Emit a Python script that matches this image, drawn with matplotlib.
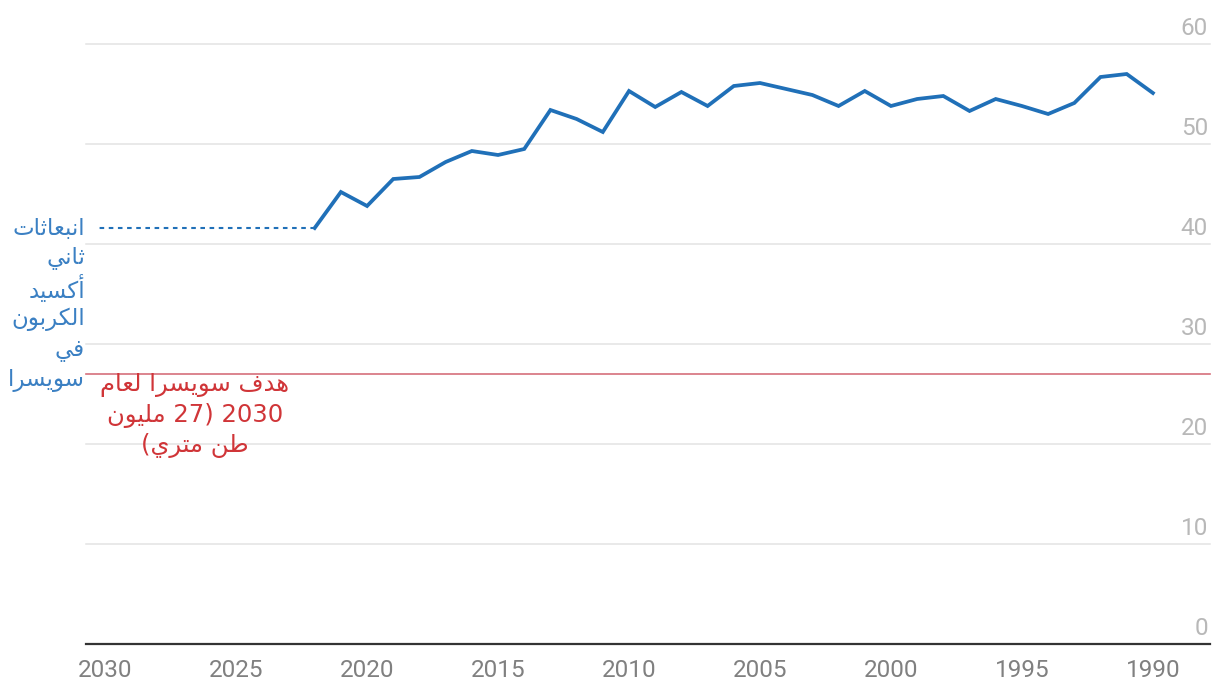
import re
import matplotlib
matplotlib.use("Agg")
import matplotlib.pyplot as plt
import matplotlib.transforms as mtransforms

# ---------------- data ----------------
years = [1990, 1991, 1992, 1993, 1994, 1995, 1996, 1997, 1998, 1999,
         2000, 2001, 2002, 2003, 2004, 2005, 2006, 2007, 2008, 2009,
         2010, 2011, 2012, 2013, 2014, 2015, 2016, 2017, 2018, 2019,
         2020, 2021, 2022]
emissions = [55.1, 57.0, 56.7, 54.1, 53.0, 53.8, 54.5, 53.3, 54.8, 54.5,
             53.8, 55.3, 53.8, 54.9, 55.5, 56.1, 55.8, 53.8, 55.2, 53.7,
             55.3, 51.2, 52.5, 53.4, 49.5, 48.9, 49.3, 48.2, 46.7, 46.5,
             43.8, 45.2, 41.6]
projection_years = [2022, 2030.4]
target_value = 27
y_ticks = [0, 10, 20, 30, 40, 50, 60]
x_ticks = [2030, 2025, 2020, 2015, 2010, 2005, 2000, 1995, 1990]

label_lines = ["انبعاثات", "ثاني", "أكسيد", "الكربون", "في", "سويسرا"]
target_lines = ["هدف سويسرا لعام", "2030 (27 مليون", "طن متري)"]

# ---------------- simple Arabic shaping (presentation forms) ----------------
FORMS = {
    'ا': ('\uFE8D', '\uFE8E', None, None),
    'أ': ('\uFE83', '\uFE84', None, None),
    'ب': ('\uFE8F', '\uFE90', '\uFE91', '\uFE92'),
    'ت': ('\uFE95', '\uFE96', '\uFE97', '\uFE98'),
    'ث': ('\uFE99', '\uFE9A', '\uFE9B', '\uFE9C'),
    'د': ('\uFEA9', '\uFEAA', None, None),
    'ر': ('\uFEAD', '\uFEAE', None, None),
    'س': ('\uFEB1', '\uFEB2', '\uFEB3', '\uFEB4'),
    'ط': ('\uFEC1', '\uFEC2', '\uFEC3', '\uFEC4'),
    'ع': ('\uFEC9', '\uFECA', '\uFECB', '\uFECC'),
    'ف': ('\uFED1', '\uFED2', '\uFED3', '\uFED4'),
    'ك': ('\uFED9', '\uFEDA', '\uFEDB', '\uFEDC'),
    'ل': ('\uFEDD', '\uFEDE', '\uFEDF', '\uFEE0'),
    'م': ('\uFEE1', '\uFEE2', '\uFEE3', '\uFEE4'),
    'ن': ('\uFEE5', '\uFEE6', '\uFEE7', '\uFEE8'),
    'ه': ('\uFEE9', '\uFEEA', '\uFEEB', '\uFEEC'),
    'و': ('\uFEED', '\uFEEE', None, None),
    'ي': ('\uFEF1', '\uFEF2', '\uFEF3', '\uFEF4'),
}


def shape(text):
    out = []
    n = len(text)
    for i, c in enumerate(text):
        if c not in FORMS:
            out.append(c)
            continue
        iso, fin, ini, med = FORMS[c]
        prev_join = i > 0 and text[i - 1] in FORMS and FORMS[text[i - 1]][2] is not None
        next_join = i < n - 1 and text[i + 1] in FORMS and ini is not None
        if prev_join and next_join:
            out.append(med)
        elif prev_join:
            out.append(fin)
        elif next_join:
            out.append(ini)
        else:
            out.append(iso)
    return ''.join(out)


def rtl(text):
    tokens = re.findall(r'\d+|.', shape(text))[::-1]
    mirror = {'(': ')', ')': '('}
    return ''.join(mirror.get(t, t) for t in tokens)


# ---------------- figure ----------------
W, H, DPI = 1220, 696, 100
fig = plt.figure(figsize=(W / DPI, H / DPI), dpi=DPI)
ax = fig.add_axes([86 / W, 1 - 644 / H, (1210 - 86) / W, (644 - 40) / H])

LINE_BLUE = "#2070b8"
LABEL_BLUE = "#3b80c3"
RED_LINE = "#d6707b"
RED_TEXT = "#d03538"

ax.set_xlim(2030.73, 1987.82)
ax.set_ylim(0, 60.4)

for v in y_ticks[1:]:
    ax.axhline(v, color="#e3e3e3", lw=1.1, zorder=1, clip_on=False)

ax.plot(years, emissions, color=LINE_BLUE, lw=2.7, solid_joinstyle="miter",
        zorder=4, clip_on=False)
proj_vals = [emissions[years.index(2022)]] * len(projection_years)
ax.plot(projection_years, proj_vals, color=LINE_BLUE, lw=1.5,
        linestyle=(0, (2.2, 2.2)), zorder=4, clip_on=False)

ax.axhline(target_value, color=RED_LINE, lw=1.2, zorder=3, clip_on=False)

for s in ["top", "left", "right"]:
    ax.spines[s].set_visible(False)
ax.spines["bottom"].set_color("#333333")
ax.spines["bottom"].set_linewidth(1.6)

ax.set_yticks([])
ax.set_xticks(x_ticks)
ax.set_xticklabels([str(x) for x in x_ticks], fontfamily="Roboto",
                   fontsize=17.5, color="#808080")
ax.tick_params(axis="x", length=0, pad=11)

ytrans = mtransforms.offset_copy(ax.get_yaxis_transform(), fig=fig,
                                 x=-2, y=9, units="dots")
for v in y_ticks:
    ax.text(1.0, v, str(v), transform=ytrans, ha="right", va="baseline",
            fontfamily="Roboto", fontsize=17.5, color="#b8b8b8")

# Blue series label (right-aligned, left of plot)
ltrans = mtransforms.offset_copy(ax.get_yaxis_transform(), fig=fig,
                                 x=-1, y=0, units="dots")
label_y = [41.6, 38.6, 35.5, 32.5, 29.4, 26.4]
for txt, yv in zip(label_lines, label_y):
    ax.text(0.0, yv, rtl(txt), transform=ltrans, ha="right", va="center",
            fontfamily="DejaVu Sans", fontsize=16.5, color=LABEL_BLUE,
            clip_on=False)

# Red target annotation
target_y = [25.9, 22.9, 19.9]
for txt, yv in zip(target_lines, target_y):
    ax.text(2026.57, yv, rtl(txt), ha="center", va="center",
            fontfamily="DejaVu Sans", fontsize=17.5, color=RED_TEXT,
            clip_on=False)

fig.savefig("out.png", dpi=DPI)
